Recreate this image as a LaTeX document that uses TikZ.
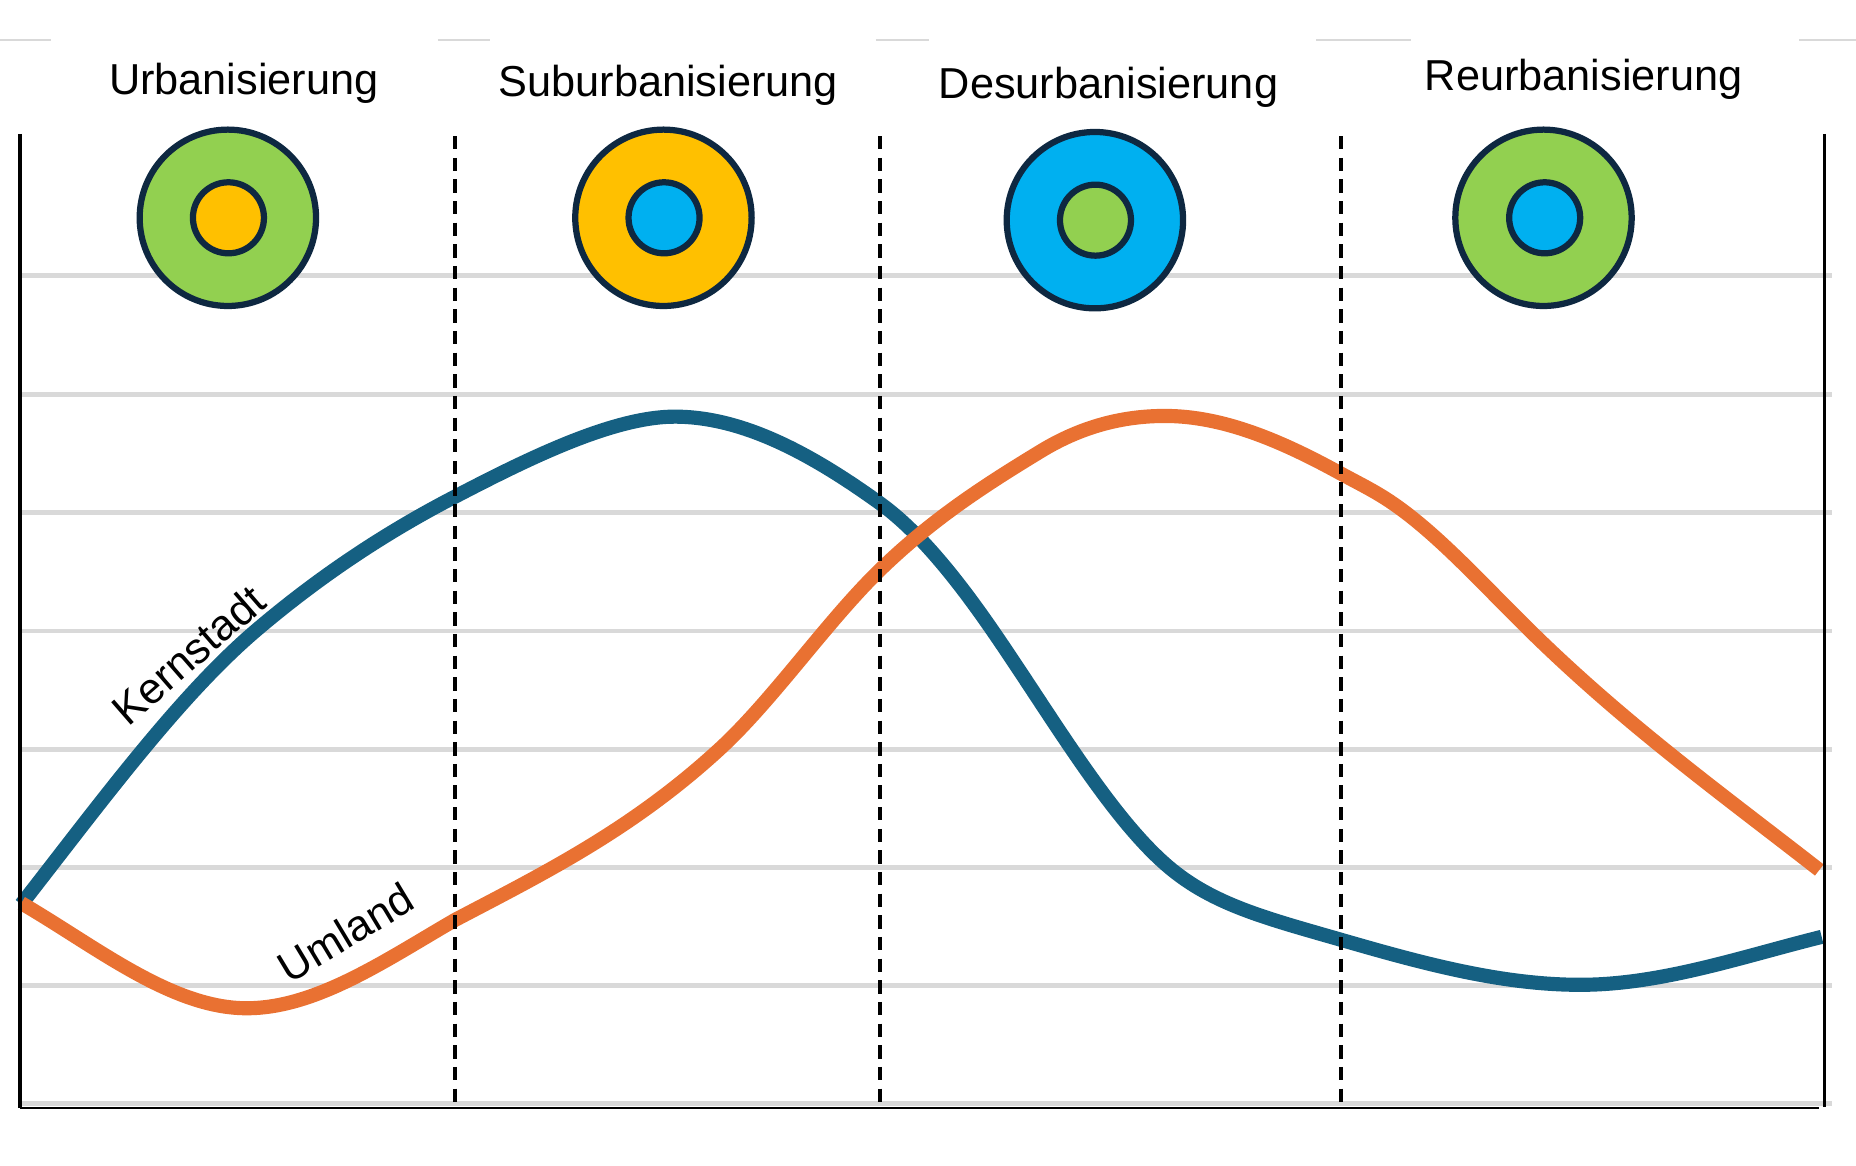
\documentclass[tikz,border=0pt]{standalone}
\usepackage{fontspec}
\setmainfont{Liberation Sans}
\definecolor{ringline}{HTML}{0E2841}
\definecolor{ringgreen}{HTML}{92D050}
\definecolor{ringorange}{HTML}{FFC000}
\definecolor{ringblue}{HTML}{00B0F0}
\definecolor{kerncol}{HTML}{156082}
\definecolor{umlandcol}{HTML}{E97132}
\definecolor{gridcol}{HTML}{D9D9D9}
\tikzset{
	gridline/.style={gridcol, line width=1.15pt},
	topline/.style={gridcol, line width=0.5pt},
	axisline/.style={black, line width=0.8pt},
	phaseline/.style={black, line width=0.8pt, dash pattern=on 3.2pt off 2pt},
	ring/.style={ringline, line width=1.5pt},
	curveline/.style={line width=3.4pt},
	phasename/.style={font=\fontsize{10.4}{12}\selectfont},
	curvename/.style={font=\fontsize{10.4}{12}\selectfont}
}
\begin{document}
\begin{tikzpicture}[x=0.01cm,y=-0.01cm]
	\useasboundingbox (0,0) rectangle (1568,985);
	\draw[topline] (0,33.5) -- (43,33.5);
	\draw[topline] (370,33.5) -- (414,33.5);
	\draw[topline] (740,33.5) -- (785,33.5);
	\draw[topline] (1112,33.5) -- (1192,33.5);
	\draw[topline] (1520,33.5) -- (1568,33.5);
	\draw[gridline] (17,233) -- (1548,233);
	\draw[gridline] (17,333) -- (1548,333);
	\draw[gridline] (17,433) -- (1548,433);
	\draw[gridline] (17,533) -- (1548,533);
	\draw[gridline] (17,633) -- (1548,633);
	\draw[gridline] (17,733) -- (1548,733);
	\draw[gridline] (17,832.5) -- (1548,832.5);
	\draw[gridline] (17,932.5) -- (1548,932.5);
	\draw[curveline, kerncol] (18,764) .. controls (84,679.5) and (151,588) .. (217,532)
		.. controls (272.8,484.6) and (328.6,448.5) .. (384.4,419.6)
		.. controls (446,387.5) and (518,352) .. (570,352)
		.. controls (627.8,352) and (685.6,383.6) .. (743.4,425.2)
		.. controls (775.1,448) and (806.9,486.8) .. (838.6,532.8)
		.. controls (888.1,604.6) and (937.5,690.1) .. (987,732.2)
		.. controls (1025,764.5) and (1070,775.8) .. (1133.4,794.1)
		.. controls (1200.6,813.5) and (1267.8,832) .. (1335,832)
		.. controls (1403.7,832) and (1472.3,808) .. (1539,791.5);
	\draw[curveline, umlandcol] (18,763) .. controls (81.5,800) and (145,851.8) .. (208.4,851.8)
		.. controls (267,851.8) and (325.7,811.2) .. (384.4,777.2)
		.. controls (459,738) and (533.7,701.2) .. (608.3,632.5)
		.. controls (653.3,591) and (698.4,525.2) .. (743.4,481.5)
		.. controls (788.4,437.8) and (833.6,409) .. (878.6,381.6)
		.. controls (913.8,360) and (949,351.4) .. (984.2,351.4)
		.. controls (1033.7,351.4) and (1083.1,372.8) .. (1132.6,400)
		.. controls (1143.7,406.1) and (1154.7,411.5) .. (1165.8,418.2)
		.. controls (1208.1,443.6) and (1250.3,491.3) .. (1292.6,532.8)
		.. controls (1374,612.7) and (1455.5,671.4) .. (1537,735);
	\draw[axisline] (17,113) -- (17,936);
	\draw[axisline] (1541.5,113) -- (1541.5,935);
	\draw[black, line width=0.5pt] (17,936) -- (1537,936);
	\draw[phaseline] (384.5,115) -- (384.5,936);
	\draw[phaseline] (743.5,115) -- (743.5,936);
	\draw[phaseline] (1133,115) -- (1133,936);
	\draw[ring, fill=ringgreen] (192.5,184) circle [radius=74.5];
	\draw[ring, fill=ringorange] (193,184) circle [radius=30];
	\draw[ring, fill=ringorange] (560.5,184) circle [radius=74.5];
	\draw[ring, fill=ringblue] (561,184) circle [radius=30];
	\draw[ring, fill=ringblue] (925,186) circle [radius=74.5];
	\draw[ring, fill=ringgreen] (925.5,186) circle [radius=30];
	\draw[ring, fill=ringgreen] (1304,184) circle [radius=74.5];
	\draw[ring, fill=ringblue] (1305,184) circle [radius=30];
	\node [phasename] (urban) at (206,70) {Urbanisierung};
	\node [phasename] (suburban) at (564.5,72) {Suburbanisierung};
	\node [phasename] (desurban) at (936.5,74) {Desurbanisierung};
	\node [phasename] (reurban) at (1338,67) {Reurbanisierung};
	\node [curvename, rotate=41] (kernstadt) at (159,553) {Kernstadt};
	\node [curvename, rotate=31] (umland) at (292,788) {Umland};
\end{tikzpicture}
\end{document}
